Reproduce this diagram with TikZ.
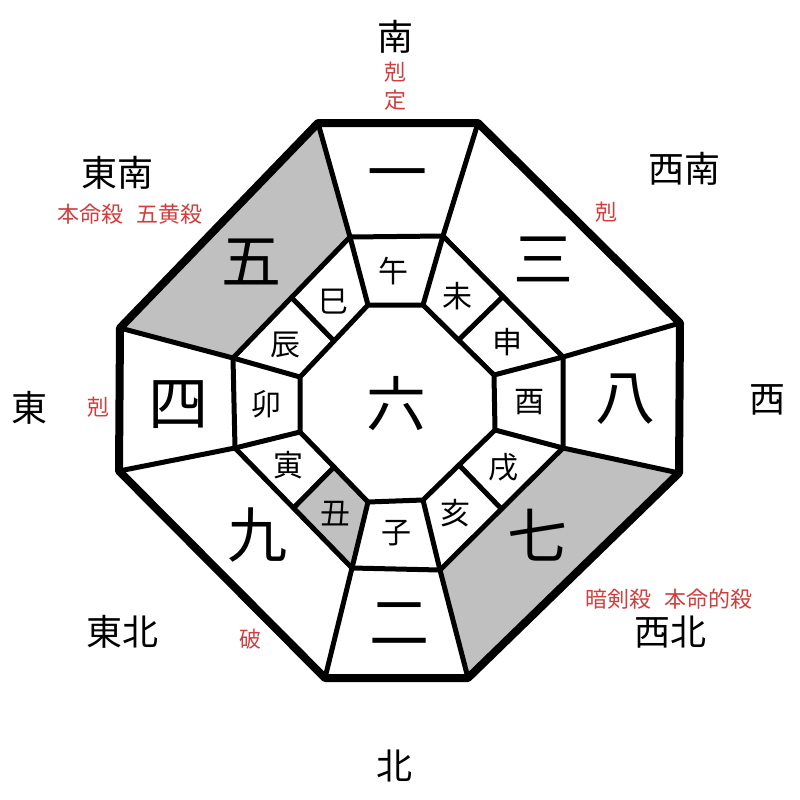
\documentclass[tikz,border=0pt]{standalone}
\usepackage{fontspec}
\setmainfont{Noto Sans CJK JP}
\usetikzlibrary{calc}
\definecolor{cellgray}{RGB}{192,192,192}
\definecolor{notered}{RGB}{208,62,62}
\tikzset{
  thin line/.style={line width=5pt, line join=round},
  thick line/.style={line width=8pt, line join=round},
  bignum/.style={font=\fontsize{60}{64}\selectfont, inner sep=0pt},
  branch/.style={font=\fontsize{30}{32}\selectfont, inner sep=0pt},
  direction/.style={font=\fontsize{36}{40}\selectfont, inner sep=0pt},
  note/.style={font=\fontsize{22}{24}\selectfont, text=notered, inner sep=0pt},
}
\begin{document}
\begin{tikzpicture}[x=1pt,y=-1pt]
\useasboundingbox (0,0) rectangle (800,800);
% outer vertices
\coordinate (O1) at (318,123);
\coordinate (O2) at (478,123);
\coordinate (O3) at (680,323);
\coordinate (O4) at (679,473);
\coordinate (O5) at (468,678);
\coordinate (O6) at (325,678);
\coordinate (O7) at (119,471);
\coordinate (O8) at (120,328);
% middle ring
\coordinate (M1) at (350,237);
\coordinate (M2) at (443,236);
\coordinate (M3) at (563,357);
\coordinate (M4) at (563,448);
\coordinate (M5) at (440,570);
\coordinate (M6) at (352,568);
\coordinate (M7) at (235,448);
\coordinate (M8) at (233,358);
% inner octagon
\coordinate (I1) at (368,305);
\coordinate (I2) at (423,305);
\coordinate (I3) at (494,375);
\coordinate (I4) at (495,430);
\coordinate (I5) at (423,500);
\coordinate (I6) at (368,502);
\coordinate (I7) at (300,432);
\coordinate (I8) at (300,377);
% divider ends
\coordinate (D1a) at ($(M8)!0.5!(M1)$);
\coordinate (D1b) at ($(I8)!0.5!(I1)$);
\coordinate (D2a) at ($(M2)!0.5!(M3)$);
\coordinate (D2b) at ($(I2)!0.5!(I3)$);
\coordinate (D3a) at ($(M4)!0.5!(M5)$);
\coordinate (D3b) at ($(I4)!0.5!(I5)$);
\coordinate (D4a) at ($(M6)!0.5!(M7)$);
\coordinate (D4b) at ($(I6)!0.5!(I7)$);
% shaded cells
\fill[cellgray] (O1) -- (O8) -- (M8) -- (M1) -- cycle;
\fill[cellgray] (O4) -- (O5) -- (M5) -- (M4) -- cycle;
\fill[cellgray] (D4a) -- (M6) -- (I6) -- (D4b) -- cycle;
% inner lines
\draw[thin line] (M1) -- (M2) -- (M3) -- (M4) -- (M5) -- (M6) -- (M7) -- (M8) -- cycle;
\draw[thin line] (I1) -- (I2) -- (I3) -- (I4) -- (I5) -- (I6) -- (I7) -- (I8) -- cycle;
\foreach \k in {1,...,8} {\draw[thin line] (O\k) -- (M\k) -- (I\k);}
\draw[thin line] (D1a) -- (D1b);
\draw[thin line] (D2a) -- (D2b);
\draw[thin line] (D3a) -- (D3b);
\draw[thin line] (D4a) -- (D4b);
% outer octagon
\draw[thick line] (O1) -- (O2) -- (O3) -- (O4) -- (O5) -- (O6) -- (O7) -- (O8) -- cycle;
% numbers
\node[bignum] (n1) at (397,182) {一};
\node[bignum] (n2) at (399,624) {二};
\node[bignum] (n3) at (543,259) {三};
\node[bignum] (n4) at (178,405) {四};
\node[bignum] (n5) at (251,262) {五};
\node[bignum] (n6) at (396,404) {六};
\node[bignum] (n7) at (537,535) {七};
\node[bignum] (n8) at (625,399) {八};
\node[bignum] (n9) at (257,535) {九};
% branches
\node[branch] (b1) at (393,271) {午};
\node[branch] (b2) at (333,302) {巳};
\node[branch] (b3) at (457,296) {未};
\node[branch] (b4) at (507,342) {申};
\node[branch] (b5) at (285,345) {辰};
\node[branch] (b6) at (266,404) {卯};
\node[branch] (b7) at (529,402) {酉};
\node[branch] (b8) at (288,465) {寅};
\node[branch] (b9) at (503,467) {戌};
\node[branch] (b10) at (335,514) {丑};
\node[branch] (b11) at (455,513) {亥};
\node[branch] (b12) at (396,533) {子};
% directions
\node[direction] (dS) at (395,37) {南};
\node[direction] (dSE) at (117,173) {東南};
\node[direction] (dSW) at (684,169) {西南};
\node[direction] (dE) at (30,408) {東};
\node[direction] (dW) at (767,400) {西};
\node[direction] (dNE) at (122,632) {東北};
\node[direction] (dNW) at (670,632) {西北};
\node[direction] (dN) at (394,766) {北};
% notes
\node[note] (r1) at (395,72) {剋};
\node[note] (r2) at (395,100) {定};
\node[note] (r3) at (130,214) {本命殺\hspace{0.6em}五黄殺};
\node[note] (r4) at (606,212) {剋};
\node[note] (r5) at (98,407) {剋};
\node[note] (r6) at (250,639) {破};
\node[note] (r7) at (669,599) {暗剣殺\hspace{0.6em}本命的殺};
\end{tikzpicture}
\end{document}
